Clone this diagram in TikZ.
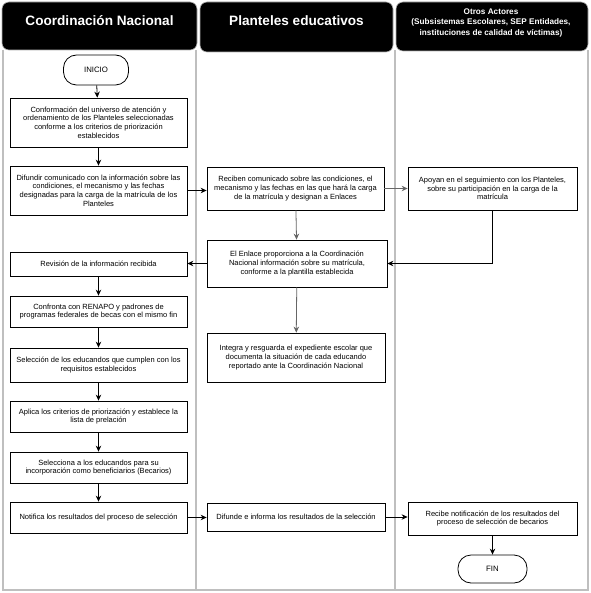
\documentclass[tikz,border=0pt]{standalone}
\usepackage{fontspec}
\setmainfont{Liberation Sans}
\usetikzlibrary{arrows.meta,positioning,calc}
\begin{document}
\begin{tikzpicture}[x=1pt,y=-1pt,
  hdr/.style={fill=black,draw=gray!60,rounded corners=7pt,line width=0.6pt},
  hdrtext/.style={text=white,font=\bfseries\fontsize{13.6}{15}\selectfont,align=center},
  lane/.style={draw=black!25,line width=1.3pt},
  pbox/.style={draw=black,line width=0.8pt,fill=white,align=center,font=\fontsize{7.5}{8.6}\selectfont,inner sep=1pt},
  term/.style={draw=black,line width=0.8pt,fill=white,rounded corners=13pt,font=\fontsize{7.8}{9}\selectfont,inner sep=0pt},
  arr/.style={-{Stealth[length=6pt,width=5.5pt,inset=2pt]},line width=0.8pt,draw=black},
  garr/.style={-{Stealth[length=6pt,width=5.5pt,inset=2pt]},line width=0.8pt,draw=black!60}
]
\useasboundingbox (0,0) rectangle (590,593);
\fill[white] (0,0) rectangle (590,593);
% lanes
\draw[lane] (3,50) -- (3,590) -- (588,590) -- (588,50);
\draw[lane] (196,50) -- (196,590);
\draw[lane] (395,50) -- (395,590);
% headers
\draw[hdr] (2,2) rectangle (197,50);
\draw[hdr] (200,2) rectangle (393,52);
\draw[hdr] (396,2) rectangle (588,51);
\node[hdrtext] (h1) at (99.5,21) {Coordinación Nacional};
\node[hdrtext] (h2) at (296.5,21) {Planteles educativos};
\node[hdrtext,font=\bfseries\fontsize{8.2}{10.5}\selectfont] (h3) at (491,22.5) {Otros Actores\\(Subsistemas Escolares, SEP Entidades,\\instituciones de calidad de víctimas)};
% lane 1
\node[term,minimum width=65pt,minimum height=30pt] (inicio) at (96,70) {INICIO};
\node[pbox,minimum width=177pt,minimum height=49pt] (b1) at (98.5,122.5) {Conformación del universo de atención y\\ordenamiento de los Planteles seleccionadas\\conforme a los criterios de priorización\\establecidos};
\node[pbox,minimum width=177pt,minimum height=49pt] (b2) at (98.5,190.5) {Difundir comunicado con la información sobre las\\condiciones, el mecanismo y las fechas\\designadas para la carga de la matrícula de los\\Planteles};
\node[pbox,minimum width=177pt,minimum height=24pt] (rev) at (98.5,264) {Revisión de la información recibida};
\node[pbox,minimum width=177pt,minimum height=31pt] (conf) at (98.5,311.5) {Confronta con RENAPO y padrones de\\programas federales de becas con el mismo fin};
\node[pbox,minimum width=177pt,minimum height=34pt] (sel) at (98.5,365) {Selección de los educandos que cumplen con los\\requisitos establecidos};
\node[pbox,minimum width=177pt,minimum height=31pt] (apl) at (98.5,416.5) {Aplica los criterios de priorización y establece la\\lista de prelación};
\node[pbox,minimum width=177pt,minimum height=31pt] (selc) at (98.5,467.5) {Selecciona a los educandos para su\\incorporación como beneficiarios (Becarios)};
\node[pbox,minimum width=177pt,minimum height=31pt] (not) at (98.5,517.5) {Notifica los resultados del proceso de selección};
% lane 2
\node[pbox,minimum width=177pt,minimum height=43pt] (rec) at (295.5,188.5) {Reciben comunicado sobre las condiciones, el\\mecanismo y las fechas en las que hará la carga\\de la matrícula y designan a Enlaces};
\node[pbox,minimum width=180pt,minimum height=47pt] (enl) at (297,263.5) {El Enlace proporciona a la Coordinación\\Nacional información sobre su matrícula,\\conforme a la plantilla establecida};
\node[pbox,minimum width=178pt,minimum height=49pt] (int) at (296,357.5) {Integra y resguarda el expediente escolar que\\documenta la situación de cada educando\\reportado ante la Coordinación Nacional};
\node[pbox,minimum width=178pt,minimum height=28pt] (dif) at (296,517) {Difunde e informa los resultados de la selección};
% lane 3
\node[pbox,minimum width=169pt,minimum height=43pt] (apo) at (492.5,188.5) {Apoyan en el seguimiento con los Planteles,\\sobre su participación en la carga de la\\matrícula};
\node[pbox,minimum width=169pt,minimum height=33pt] (rnot) at (492.5,518.5) {Recibe notificación de los resultados del\\proceso de selección de becarios};
\node[term,minimum width=69pt,minimum height=28pt,rounded corners=13pt] (fin) at (492.5,569) {FIN};
% arrows
\draw[arr] (inicio) -- (b1);
\draw[arr] (b1) -- (b2);
\draw[arr] (b2.east) -- (rec.west |- b2.east);
\draw[garr] (rec.east) -- (apo.west |- rec.east);
\draw[garr] (rec) -- (enl);
\draw[arr] (apo.south) |- (enl.east);
\draw[arr] (enl.west) -- (rev.east |- enl.west);
\draw[garr] (enl) -- (int);
\draw[arr] (rev) -- (conf);
\draw[arr] (conf) -- (sel);
\draw[arr] (sel) -- (apl);
\draw[arr] (apl) -- (selc);
\draw[arr] (selc) -- (not);
\draw[arr] (not.east) -- (dif.west |- not.east);
\draw[arr] (dif.east) -- (rnot.west |- dif.east);
\draw[arr] (rnot) -- (fin);
\end{tikzpicture}
\end{document}
